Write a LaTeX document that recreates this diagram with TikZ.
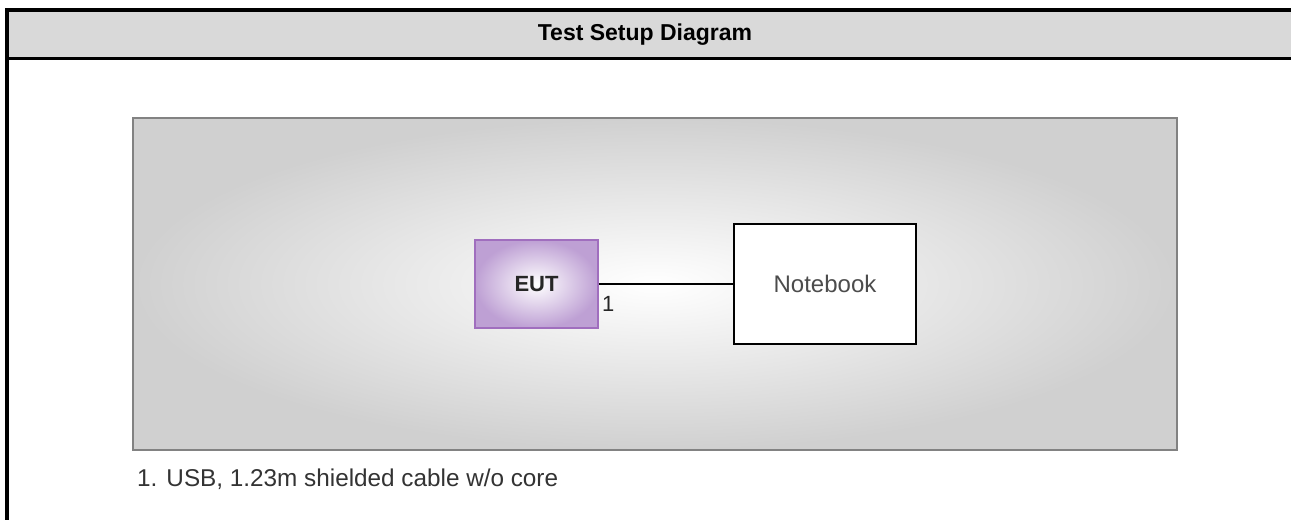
\documentclass[tikz,border=0pt]{standalone}
\usepackage{fontspec}
\setmainfont{Liberation Sans}
\usetikzlibrary{shadings}
\definecolor{eutedge}{RGB}{160,110,190}
\definecolor{eutouter}{RGB}{190,160,212}
\definecolor{panelouter}{RGB}{208,208,208}
\definecolor{paneledge}{RGB}{130,130,130}
\begin{document}
\begin{tikzpicture}[x=1pt,y=-1pt,
  frameline/.style={line width=4pt,black},
  eutbox/.style={draw=eutedge,line width=1.5pt,inner color=white,outer color=eutouter,
    minimum width=123pt,minimum height=88pt,inner sep=0pt,font=\fontsize{22}{26}\selectfont\bfseries,text=black!85},
  pcbox/.style={draw=black,line width=1.5pt,fill=white,minimum width=182pt,minimum height=120pt,inner sep=0pt,
    font=\fontsize{24}{28}\selectfont,text=black!70},
  cable/.style={line width=1.5pt,black}]
\useasboundingbox (0,0) rectangle (1291,520);
\fill[white] (0,0) rectangle (1291,520);
% header band
\fill[black!15] (7,10) rectangle (1291,58.5);
\draw[frameline] (5,10) -- (1291,10);
\draw[line width=3pt] (5,58.5) -- (1291,58.5);
\draw[frameline] (7,8) -- (7,520);
\node[font=\fontsize{23}{27}\selectfont\bfseries] (title) at (645,35) {Test Setup Diagram};
% panel
\shade[inner color=white,outer color=panelouter] (133,118) rectangle (1177,450);
\draw[draw=paneledge,line width=2pt] (133,118) rectangle (1177,450);
% nodes
\node[eutbox] (eut) at (536.5,284) {EUT};
\node[pcbox] (nb) at (825,284) {Notebook};
\draw[cable] (eut.east) -- (nb.west);
\node[font=\fontsize{22}{26}\selectfont,text=black!85,anchor=west,inner sep=0pt] (lbl) at (602,303.5) {1};
% footnote
\node[font=\fontsize{24.3}{28}\selectfont,text=black!80,anchor=west,inner sep=0pt] (note) at (137,479) {1. USB, 1.23m shielded cable w/o core};
\end{tikzpicture}
\end{document}
